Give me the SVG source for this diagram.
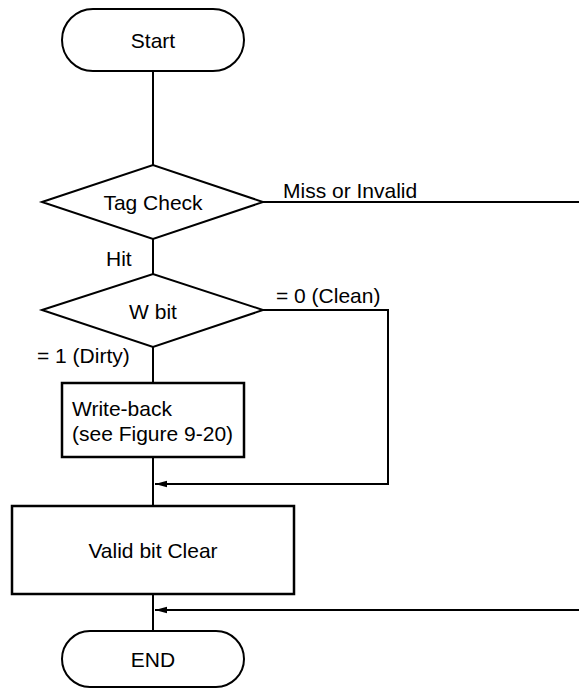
<svg xmlns="http://www.w3.org/2000/svg" width="579" height="691" viewBox="0 0 579 691">
<style>
.s{fill:#fff;stroke:#000;stroke-width:2}
.b{fill:#fff;stroke:#000;stroke-width:2.5}
.l{fill:none;stroke:#000;stroke-width:2}
text{font-family:"Liberation Sans",Arial,sans-serif;font-size:21px;fill:#000}
.c{text-anchor:middle}
</style>
<defs>
<marker id="ah" markerWidth="12" markerHeight="8" refX="12" refY="4" orient="auto" markerUnits="userSpaceOnUse">
<path d="M0,0.8 L12,4 L0,7.2 z" fill="#000"/>
</marker>
</defs>
<g id="connectors">
<path class="l" d="M153,71 V165"/>
<path class="l" d="M153,239 V274"/>
<path class="l" d="M153,347 V383"/>
<path class="l" d="M153,457 V506"/>
<path class="l" d="M153,594 V630"/>
<path class="l" d="M263,202 H579"/>
<path class="l" d="M263,310 H388 V484 H155" marker-end="url(#ah)"/>
<path class="l" d="M579,610 H155" marker-end="url(#ah)"/>
<text x="283" y="198">Miss or Invalid</text>
<text x="106" y="266">Hit</text>
<text x="276" y="303">= 0 (Clean)</text>
<text x="37" y="363">= 1 (Dirty)</text>
</g>
<g id="start">
<rect class="s" x="62" y="9" width="182" height="62" rx="31"/>
<text class="c" x="153" y="48">Start</text>
</g>
<g id="tagcheck">
<polygon class="s" points="42,202 153,165 263,202 153,239"/>
<text class="c" x="153" y="210">Tag Check</text>
</g>
<g id="wbit">
<polygon class="s" points="42,310 153,274 263,310 153,347"/>
<text class="c" x="153" y="319">W bit</text>
</g>
<g id="writeback">
<rect class="b" x="62" y="383" width="182" height="74"/>
<text x="72" y="416">Write-back</text>
<text x="72" y="441">(see Figure 9-20)</text>
</g>
<g id="validclear">
<rect class="b" x="12" y="506" width="282" height="88"/>
<text class="c" x="153" y="558">Valid bit Clear</text>
</g>
<g id="end">
<rect class="s" x="62" y="631" width="182" height="56" rx="28"/>
<text class="c" x="153" y="667">END</text>
</g>
</svg>
